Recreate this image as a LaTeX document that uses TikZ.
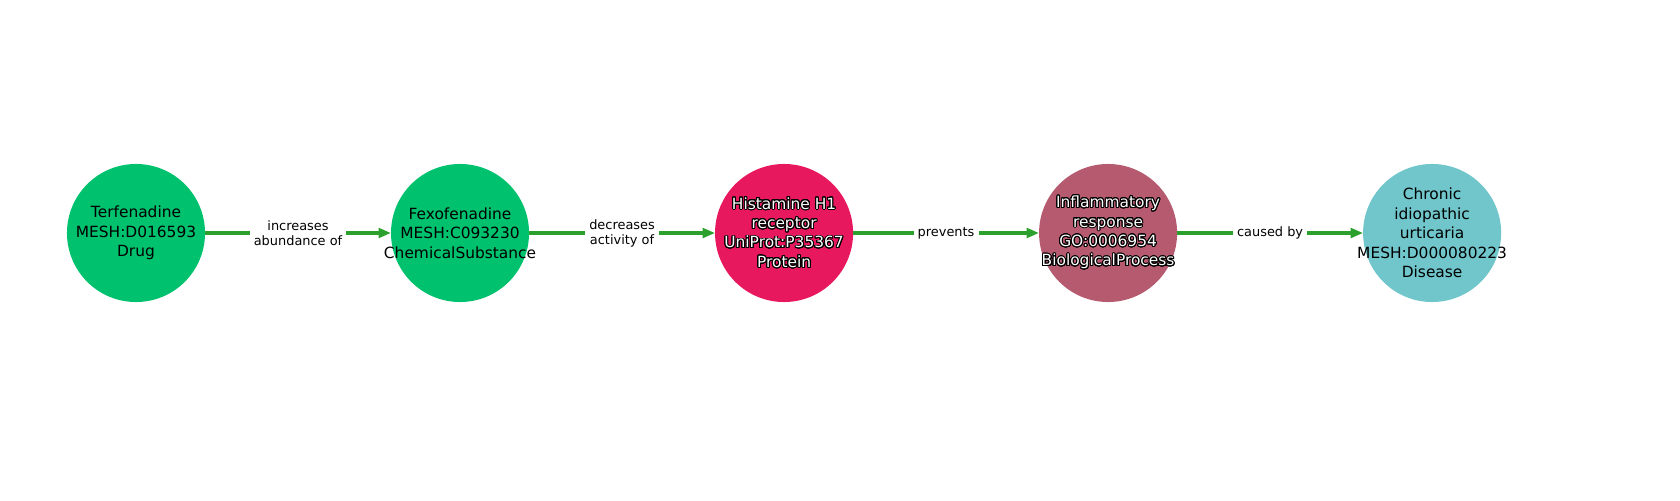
\documentclass[tikz,border=0pt]{standalone}
\usepackage{fontspec}
\setmainfont{DejaVu Sans}
\usepackage{contour}
\contourlength{0.7pt}
\contournumber{24}
\usetikzlibrary{positioning,arrows.meta}
\definecolor{drugcol}{HTML}{00C16E}
\definecolor{protcol}{HTML}{E8185E}
\definecolor{proccol}{HTML}{B65B6F}
\definecolor{discol}{HTML}{70C6CB}
\definecolor{edgecol}{HTML}{2CA02C}
\newcommand{\halo}[1]{\contour{black}{\textcolor{white}{#1}}}
\begin{document}
\begin{tikzpicture}
    [
      x=0.72pt, y=0.72pt,
      >/.tip={Triangle[length=9pt,width=7pt]},
      my circle/.style={circle, minimum size=99.4pt, inner sep=0pt, outer sep=0pt},
      my text/.style={align=center, inner sep=0pt, font=\fontsize{11.1}{14}\selectfont},
      my edge/.style={->, draw=edgecol, fill=edgecol, line width=2.2pt},
      my label/.style={fill=white, inner sep=3pt, align=center, text=black,
        font=\fontsize{9.3}{10.8}\selectfont}
    ]
    \useasboundingbox (0,0) rectangle (1680,500);
    \node (drug) [my circle, fill=drugcol, label={[my text]center:{Terfenadine\\MESH:D016593\\Drug}}] at (136,267) {};
    \node (chem) [my circle, fill=drugcol, right=133.9pt of drug,
      label={[my text]center:{Fexofenadine\\MESH:C093230\\ChemicalSubstance}}] {};
    \node (prot) [my circle, fill=protcol, right=133.9pt of chem,
      label={[my text]center:{\halo{Histamine H1}\\\halo{receptor}\\\halo{UniProt:P35367}\\\halo{Protein}}}] {};
    \node (proc) [my circle, fill=proccol, right=133.9pt of prot,
      label={[my text]center:{\halo{Inflammatory}\\\halo{response}\\\halo{GO:0006954}\\\halo{BiologicalProcess}}}] {};
    \node (dis) [my circle, fill=discol, right=133.9pt of proc,
      label={[my text]center:{Chronic\\idiopathic\\urticaria\\MESH:D000080223\\Disease}}] {};
    \path [my edge] (drug) -- (chem) node [midway, my label] {increases\\abundance of};
    \path [my edge] (chem) -- (prot) node [midway, my label] {decreases\\activity of};
    \path [my edge] (prot) -- (proc) node [midway, my label] {prevents};
    \path [my edge] (proc) -- (dis) node [midway, my label] {caused by};
  \end{tikzpicture}
\end{document}
